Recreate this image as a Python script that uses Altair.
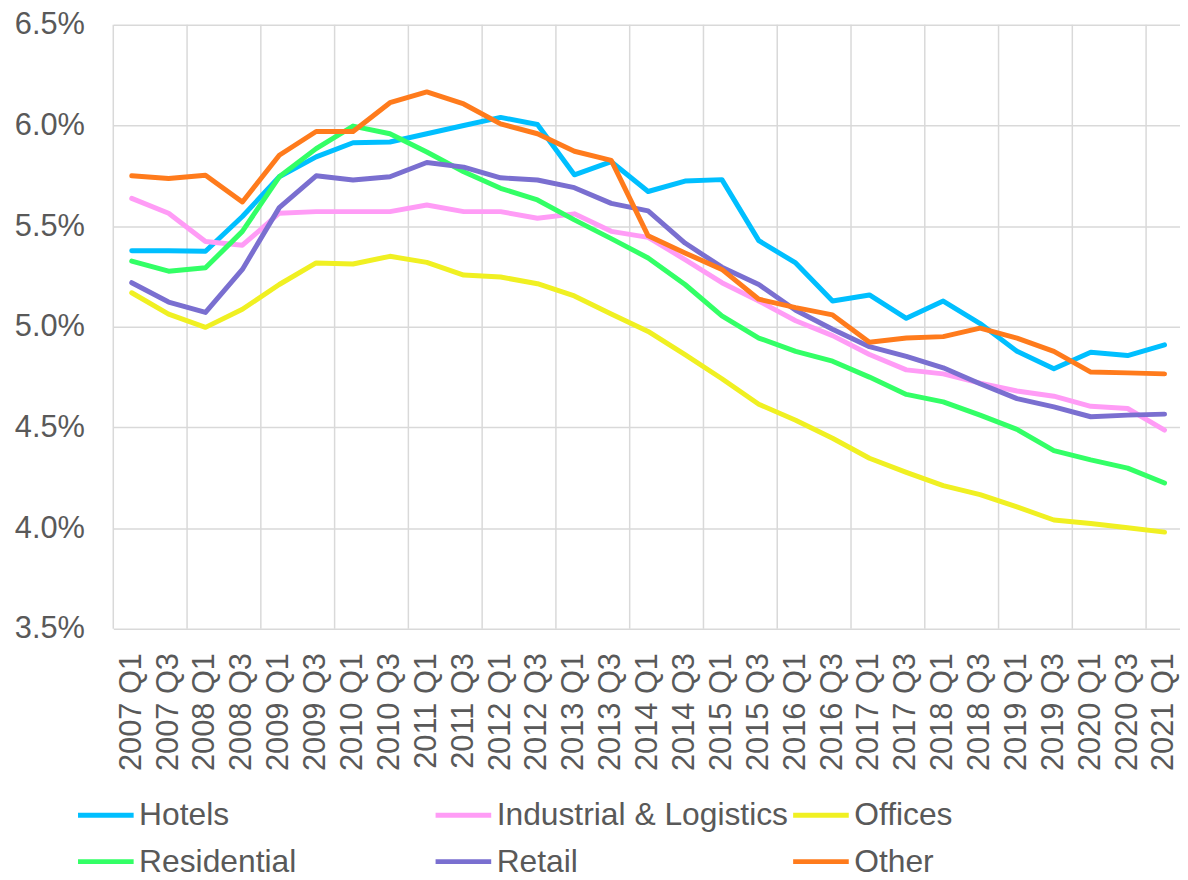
import altair as alt
import pandas as pd

periods = [
    "2007 Q1", "2007 Q3", "2008 Q1", "2008 Q3", "2009 Q1", "2009 Q3",
    "2010 Q1", "2010 Q3", "2011 Q1", "2011 Q3", "2012 Q1", "2012 Q3",
    "2013 Q1", "2013 Q3", "2014 Q1", "2014 Q3", "2015 Q1", "2015 Q3",
    "2016 Q1", "2016 Q3", "2017 Q1", "2017 Q3", "2018 Q1", "2018 Q3",
    "2019 Q1", "2019 Q3", "2020 Q1", "2020 Q3", "2021 Q1",
]
year_starts = [p for p in periods if p.endswith("Q1")]

sectors = ["Hotels", "Industrial & Logistics", "Offices", "Residential", "Retail", "Other"]
colors = ["#00BFFF", "#FF9CF6", "#F0F022", "#33FF66", "#7A6FD0", "#FF7B1C"]

hotels = [5.378, 5.378, 5.375, 5.548, 5.745, 5.844, 5.914, 5.918, 5.959, 6.000,
          6.040, 6.005, 5.755, 5.820, 5.672, 5.724, 5.731, 5.428, 5.317, 5.128,
          5.158, 5.042, 5.128, 5.016, 4.878, 4.791, 4.873, 4.857, 4.910]
industrial = [5.638, 5.564, 5.424, 5.405, 5.564, 5.572, 5.572, 5.572, 5.605, 5.572,
              5.572, 5.539, 5.561, 5.474, 5.444, 5.334, 5.219, 5.128, 5.030, 4.956,
              4.862, 4.786, 4.766, 4.720, 4.681, 4.655, 4.605, 4.594, 4.487]
offices = [5.169, 5.063, 4.997, 5.087, 5.210, 5.317, 5.312, 5.350, 5.320, 5.257,
           5.247, 5.214, 5.153, 5.063, 4.977, 4.862, 4.742, 4.615, 4.536, 4.446,
           4.347, 4.277, 4.211, 4.166, 4.105, 4.040, 4.023, 4.002, 3.980]
residential = [5.326, 5.276, 5.293, 5.474, 5.745, 5.885, 5.997, 5.959, 5.868, 5.770,
               5.688, 5.630, 5.531, 5.438, 5.342, 5.210, 5.054, 4.944, 4.878, 4.829,
               4.750, 4.664, 4.627, 4.561, 4.490, 4.385, 4.339, 4.298, 4.224]
retail = [5.219, 5.123, 5.071, 5.285, 5.592, 5.750, 5.729, 5.745, 5.816, 5.793,
          5.740, 5.729, 5.691, 5.613, 5.576, 5.416, 5.296, 5.210, 5.082, 4.988,
          4.901, 4.853, 4.796, 4.717, 4.643, 4.602, 4.553, 4.561, 4.566]
other = [5.750, 5.737, 5.753, 5.620, 5.852, 5.970, 5.970, 6.113, 6.167, 6.107,
         6.008, 5.959, 5.872, 5.827, 5.452, 5.367, 5.285, 5.137, 5.095, 5.059,
         4.923, 4.944, 4.951, 4.993, 4.944, 4.878, 4.775, 4.771, 4.766]

y_ticks = [3.5, 4.0, 4.5, 5.0, 5.5, 6.0, 6.5]

series = [hotels, industrial, offices, residential, retail, other]
rows = []
for name, vals in zip(sectors, series):
    for p, v in zip(periods, vals):
        rows.append({"period": p, "sector": name, "value": v})
df = pd.DataFrame(rows)
grid_df = pd.DataFrame({"period": year_starts})

FONT = "Liberation Sans"
TXT = "#595959"
GRID = "#D9D9D9"

x_scale = alt.Scale(type="band", domain=periods, range=[0, 1077], paddingInner=0, paddingOuter=0)
x_axis = alt.Axis(title=None, labelAngle=270, labelAlign="right", labelBaseline="middle",
                  labelPadding=24, ticks=False, domain=False, grid=False,
                  labelFontSize=31, labelColor=TXT, labelFont=FONT, labelOverlap=False)

rules = alt.Chart(grid_df).mark_rule(color=GRID, strokeWidth=1.5).encode(
    x=alt.X("period:O", scale=x_scale, bandPosition=0, axis=x_axis)
)

lines = alt.Chart(df).mark_line(strokeWidth=5, strokeCap="round", strokeJoin="round").encode(
    x=alt.X("period:O", scale=x_scale, bandPosition=0.5, axis=x_axis),
    y=alt.Y("value:Q", scale=alt.Scale(domain=[3.5, 6.5], nice=False, zero=False),
            axis=alt.Axis(title=None, values=y_ticks,
                          labelExpr="format(datum.value, '.1f') + '%'",
                          grid=True, gridColor=GRID, gridWidth=1.5, ticks=False, domain=False,
                          labelPadding=29, labelFontSize=31, labelColor=TXT, labelFont=FONT)),
    color=alt.Color("sector:N", sort=sectors,
                    scale=alt.Scale(domain=sectors, range=colors),
                    legend=alt.Legend(title=None, orient="none", legendX=-38, legendY=765,
                                      direction="horizontal", columns=3, gridAlign="all",
                                      columnPadding=-6, rowPadding=-7, symbolType="stroke",
                                      symbolSize=3136, symbolStrokeWidth=5,
                                      labelFontSize=32, labelColor=TXT, labelFont=FONT,
                                      labelOffset=3, labelLimit=500)),
)

chart = alt.layer(rules, lines).properties(
    width=1074, height=608,
    autosize=alt.AutoSizeParams(type="none"),
    padding={"left": 106, "top": 14, "right": 0, "bottom": 242},
).configure_view(stroke=None)

chart.save("out.html", embed_options={"renderer": "svg", "actions": False})
